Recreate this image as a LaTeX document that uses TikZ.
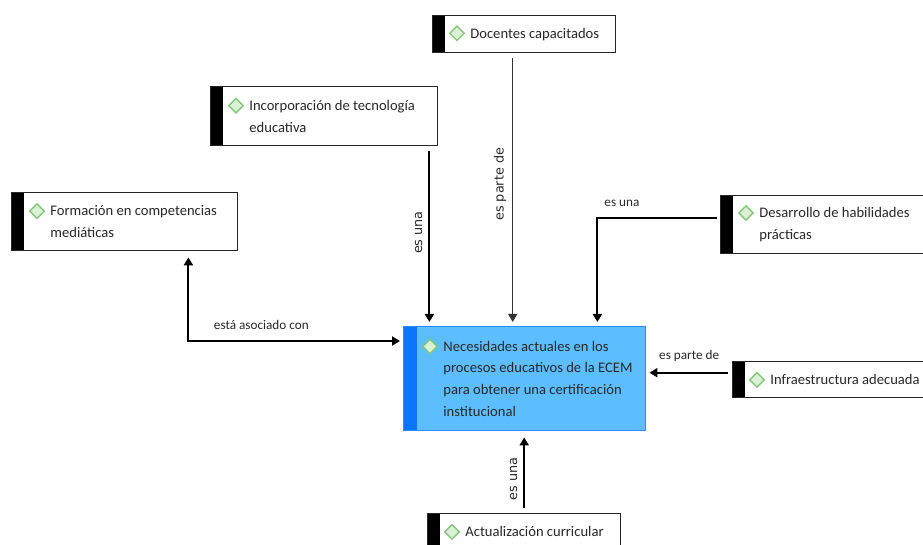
\documentclass[tikz,border=0pt]{standalone}
\usepackage{fontspec}
\setmainfont{Carlito}
\newfontfamily\vlabelfont{DejaVu Sans}
\usetikzlibrary{arrows.meta,shapes.geometric,calc}
\definecolor{textgray}{RGB}{40,40,40}
\definecolor{boxblue}{RGB}{92,190,255}
\definecolor{barblue}{RGB}{10,117,255}
\definecolor{gemgreen}{RGB}{130,200,120}
\definecolor{gemfill}{RGB}{220,240,215}
\tikzset{font=\fontsize{7.3}{10.8}\selectfont}
\tikzset{concept/.style={draw=black!85,fill=white,anchor=north west,inner sep=0pt,line width=0.7pt,
  path picture={\fill[black] (path picture bounding box.north west) rectangle ([xshift=6pt]path picture bounding box.south west);}}}
\tikzset{mainconcept/.style={concept,draw=barblue!85,fill=boxblue,
  path picture={\fill[barblue] (path picture bounding box.north west) rectangle ([xshift=6.5pt]path picture bounding box.south west);}}}
\tikzset{ctext/.style={anchor=west,align=left,inner sep=0pt,text=textgray}}
\tikzset{gem/.style={diamond,draw=gemgreen,fill=gemfill,line width=0.7pt,inner sep=0pt,minimum size=7.5pt}}
\tikzset{link/.style={-{Triangle[length=4pt,width=4.5pt]},line width=1pt,black}}
\tikzset{hlabel/.style={font=\fontsize{6.6}{8}\selectfont,text=textgray,inner sep=2pt}}
\tikzset{vlabel/.style={font=\vlabelfont\fontsize{6.4}{8}\selectfont,text=textgray,rotate=90,anchor=south,inner sep=3pt}}

\begin{document}
\begin{tikzpicture}[x=0.5pt,y=-0.5pt]
\useasboundingbox (0,0) rectangle (923,545);
\clip (0,0) rectangle (923,545);
% boxes
\node[concept,minimum width=91.5pt,minimum height=18.5pt] (doc) at (432,15) {};
\node[concept,minimum width=113.5pt,minimum height=29.5pt] (inc) at (210,86) {};
\node[concept,minimum width=113pt,minimum height=29pt] (for) at (11,192) {};
\node[concept,minimum width=107.5pt,minimum height=29pt] (des) at (720,195) {};
\node[concept,minimum width=102.5pt,minimum height=18pt] (inf) at (732,361) {};
\node[mainconcept,minimum width=121pt,minimum height=52pt] (ctr) at (403,326) {};
\node[concept,minimum width=96.5pt,minimum height=18pt] (act) at (427,513) {};
% texts
\node[ctext] (doc-t) at ([xshift=19pt]doc.west) {Docentes capacitados};
\node[ctext] (inc-t) at ([xshift=19.5pt]inc.west) {Incorporación de tecnología\\educativa};
\node[ctext] (for-t) at ([xshift=19.5pt]for.west) {Formación en competencias\\mediáticas};
\node[ctext] (des-t) at ([xshift=19.5pt]des.west) {Desarrollo de habilidades\\prácticas};
\node[ctext] (inf-t) at ([xshift=19pt]inf.west) {Infraestructura adecuada};
\node[ctext] (ctr-t) at ([xshift=20pt]ctr.west) {Necesidades actuales en los\\procesos educativos de la ECEM\\para obtener una certificación\\institucional};
\node[ctext] (act-t) at ([xshift=19pt]act.west) {Actualización curricular};
% icons, on the first line of each text
\foreach \n/\k in {doc/0,inc/1,for/1,des/1,inf/0,ctr/3,act/0}
  \node[gem] (\n-g) at ([xshift=-6.5pt,yshift=2.4pt+\k*10.8pt]\n-t.base west) {};
% connectors
\draw[link,shorten <=2.5pt,shorten >=2pt] ([xshift=-4.5pt]inc.south east) -- ([xshift=-4.5pt]inc.south east |- ctr.north)
  node[vlabel,pos=0.48] {es una};
\draw[link,line width=0.5pt,black!80,shorten <=2.5pt,shorten >=2pt] ([xshift=-5.75pt]doc.south) -- ([xshift=-5.75pt]doc.south |- ctr.north)
  node[vlabel,pos=0.48] {es parte de};
\coordinate (des-a) at ([yshift=3.5pt]des.west);
\coordinate (ctr-a) at ([xshift=-24.5pt]ctr.north east);
\draw[link,shorten <=1.5pt,shorten >=2pt] (des-a) -| (ctr-a)
  node[hlabel,pos=0.4,above=3pt] {es una};
\coordinate (for-a) at ([xshift=-25pt]for.south east);
\coordinate (ctr-b) at ([yshift=-7.5pt]ctr.north west);
\draw[link,{Triangle[length=4pt,width=4.5pt]}-{Triangle[length=4pt,width=4.5pt]},shorten <=3pt,shorten >=1.5pt] (for-a) |- (ctr-b)
  node[hlabel,pos=0.67,above=3pt] {está asociado con};
\coordinate (inf-a) at ([yshift=3.5pt]inf.west);
\draw[link,shorten <=2pt,shorten >=1.5pt] (inf-a) -- (inf-a -| ctr.east)
  node[hlabel,midway,above=3pt] {es parte de};
\draw[link,shorten <=2.5pt,shorten >=3pt] (act.north) -- (act.north |- ctr.south)
  node[vlabel,pos=0.42] {es una};
\end{tikzpicture}
\end{document}
